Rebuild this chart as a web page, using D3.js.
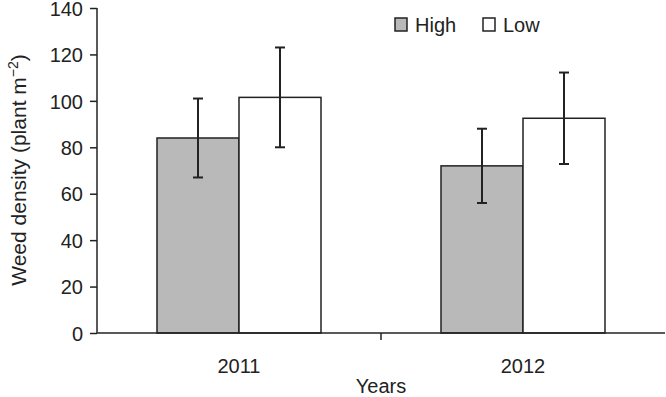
<html>
  <head>
    <script src="https://d3js.org/d3.v7.min.js"></script>
    <style>
      body { margin: 0; background: #fff; }
      text { font-family: "Liberation Sans", Arial, sans-serif; fill: #222; }
    </style>
  </head>
  <body>
    <div id="vis"></div>
    <script>
      // Data
      var years = ["2011", "2012"];
      var groups = ["High", "Low"];
      var highValues = [84, 72];
      var lowValues = [101.5, 92.5];
      var highErrors = [17, 16];
      var lowErrors = [21.5, 19.7];
      var yTicks = [0, 20, 40, 60, 80, 100, 120, 140];

      var colors = { High: "#b9b9b9", Low: "#ffffff" };

      var margin = { top: 8, right: 1, bottom: 64, left: 97 };
      var width = 666 - margin.left - margin.right;
      var height = 397 - margin.top - margin.bottom;

      var svg = d3
        .select("#vis")
        .append("svg")
        .attr("width", 666)
        .attr("height", 397)
        .append("g")
        .attr("transform", "translate(" + margin.left + "," + margin.top + ")");

      var rows = [];
      years.forEach(function (yr, i) {
        rows.push({ year: yr, group: "High", value: highValues[i], err: highErrors[i] });
        rows.push({ year: yr, group: "Low", value: lowValues[i], err: lowErrors[i] });
      });

      var x = d3.scaleBand().domain(years).range([0, width]).paddingInner(0).paddingOuter(0);
      var inner = d3.scaleBand().domain(groups).range([60, x.bandwidth() - 60]);
      var y = d3.scaleLinear().domain([0, 140]).range([height, 0]);

      // Bars
      svg
        .selectAll(".bar")
        .data(rows)
        .enter()
        .append("rect")
        .attr("class", "bar")
        .attr("x", function (d) { return x(d.year) + inner(d.group); })
        .attr("y", function (d) { return y(d.value); })
        .attr("width", inner.bandwidth())
        .attr("height", function (d) { return height - y(d.value); })
        .style("fill", function (d) { return colors[d.group]; })
        .style("stroke", "#222")
        .style("stroke-width", "1.5px");

      // Error bars
      var eb = svg.selectAll(".err").data(rows).enter().append("g").attr("class", "err")
        .style("stroke", "#222").style("stroke-width", "2px");
      function cx(d) { return x(d.year) + inner(d.group) + inner.bandwidth() / 2; }
      eb.append("line")
        .attr("x1", cx).attr("x2", cx)
        .attr("y1", function (d) { return y(d.value + d.err); })
        .attr("y2", function (d) { return y(d.value - d.err); });
      [1, -1].forEach(function (s) {
        eb.append("line")
          .attr("x1", function (d) { return cx(d) - 5; })
          .attr("x2", function (d) { return cx(d) + 5; })
          .attr("y1", function (d) { return y(d.value + s * d.err); })
          .attr("y2", function (d) { return y(d.value + s * d.err); });
      });

      // Y axis
      var yAxis = svg.append("g")
        .call(d3.axisLeft(y).tickValues(yTicks).tickSize(7).tickPadding(7));
      yAxis.selectAll("text").style("font-size", "20px").attr("dy", "0.36em");
      yAxis.select(".domain").attr("d", "M0," + y(140) + "V" + height);
      yAxis.selectAll("line, path").style("stroke", "#222").style("stroke-width", "1.5px");

      // X axis
      var xAxis = svg.append("g").attr("transform", "translate(0," + height + ")");
      xAxis.append("line").attr("x1", 0).attr("x2", width)
        .style("stroke", "#222").style("stroke-width", "1.5px");
      xAxis.append("line")
        .attr("x1", x(years[1])).attr("x2", x(years[1]))
        .attr("y1", 0).attr("y2", 7)
        .style("stroke", "#222").style("stroke-width", "1.5px");
      xAxis.selectAll(".yl").data(years).enter().append("text")
        .attr("x", function (d) { return x(d) + x.bandwidth() / 2; })
        .attr("y", 40)
        .attr("text-anchor", "middle")
        .style("font-size", "20px")
        .text(function (d) { return d; });

      // Axis titles
      svg.append("text")
        .attr("x", x(years[1]))
        .attr("y", height + 60)
        .attr("text-anchor", "middle")
        .style("font-size", "20px")
        .text("Years");

      var yl = svg.append("text")
        .attr("transform", "translate(" + (26 - margin.left) + "," + (170 - margin.top) + ") rotate(-90)")
        .attr("text-anchor", "middle")
        .style("font-size", "21px");
      yl.append("tspan").text("Weed density (plant m");
      yl.append("tspan").attr("dy", -8).style("font-size", "14px").text("\u22122");
      yl.append("tspan").attr("dy", 8).text(")");

      // Legend
      var legend = svg.selectAll(".leg").data(groups).enter().append("g")
        .attr("transform", function (d, i) { return "translate(" + (298 + i * 88) + "," + 10 + ")"; });
      legend.append("rect")
        .attr("width", 12).attr("height", 13)
        .style("fill", function (d) { return colors[d]; })
        .style("stroke", "#222").style("stroke-width", "1.5px");
      legend.append("text")
        .attr("x", 20).attr("y", 14)
        .style("font-size", "20px")
        .text(function (d) { return d; });
    </script>
  </body>
</html>
